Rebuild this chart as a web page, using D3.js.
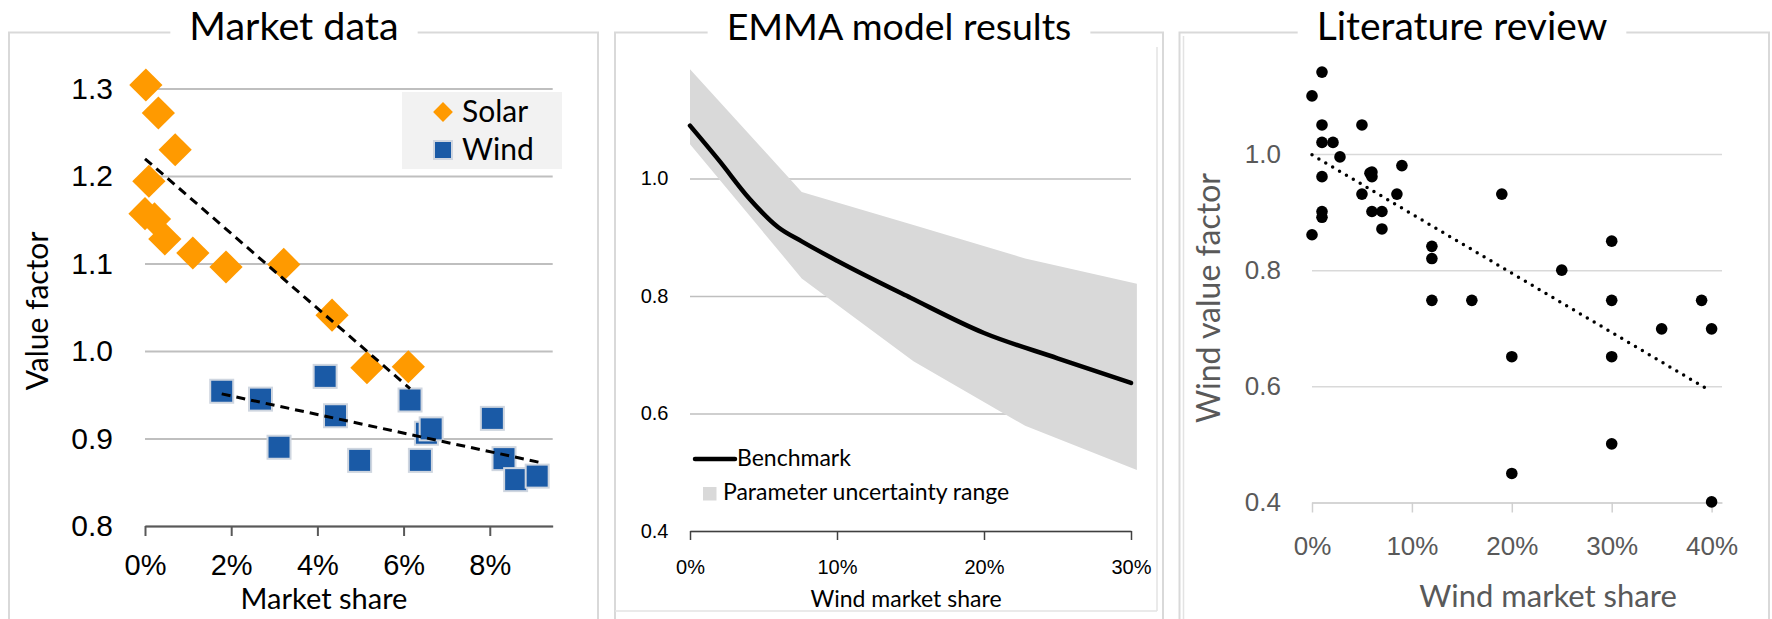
<!DOCTYPE html>
<html lang="en">
<head>
<meta charset="UTF-8">
<title>Value factors</title>
<style>
  body { margin: 0; background: #fff; }
  svg { display: block; font-family: Lato, 'Open Sans', sans-serif; }
</style>
</head>
<body>
<svg id="svg" width="1772" height="619"></svg>
<script src="https://d3js.org/d3.v7.min.js"></script>
<script>
// --- Market data (share in %, value factor)
const solarShare = [0.02, 0.31, 0.70, 0.09, 0.0, 0.22, 0.46, 1.11, 1.88, 3.22, 4.34, 5.15, 6.11]
const solarValue = [1.304, 1.272, 1.230, 1.194, 1.157, 1.151, 1.128, 1.112, 1.096, 1.099, 1.041, 0.981, 0.982]
const windShare = [1.78, 2.68, 3.11, 4.18, 4.42, 4.98, 6.15, 6.39, 6.53, 6.64, 8.06, 8.33, 8.60, 9.10]
const windValue = [0.954, 0.945, 0.890, 0.971, 0.926, 0.875, 0.944, 0.875, 0.906, 0.911, 0.923, 0.877, 0.853, 0.857]
const solarTrendShare = [0, 6.15]
const solarTrendValue = [1.2197, 0.957]
const windTrendShare = [1.78, 9.13]
const windTrendValue = [0.951, 0.873]
const marketTicksX = [0, 2, 4, 6, 8]
const marketTicksY = [0.8, 0.9, 1.0, 1.1, 1.2, 1.3]

// --- EMMA model results
const emmaShare = [0, 2, 4, 6, 7.6, 10, 15, 20, 25, 30]
const emmaBenchmark = [1.09, 1.03, 0.967, 0.917, 0.893, 0.860, 0.797, 0.737, 0.694, 0.652]
const bandShare = [0, 7.6, 15.2, 22.8, 30.4]
const bandHigh = [1.186, 0.977, 0.921, 0.864, 0.821]
const bandLow = [1.0585, 0.830, 0.689, 0.579, 0.504]
const emmaTicksX = [0, 10, 20, 30]
const emmaTicksY = [0.4, 0.6, 0.8, 1.0]

// --- Literature review
const litShare = [0, 1, 1, 1, 2.1, 2.8, 1, 1, 1, 0, 5, 5, 5.8, 6, 6, 6, 7, 7, 8.5, 9,
  12, 12, 12, 16, 19, 20, 20, 25, 30, 30, 30, 30, 35, 39, 40, 40]
const litValue = [1.10, 1.141, 1.050, 1.020, 1.020, 0.995, 0.961, 0.901, 0.891, 0.861, 1.050, 0.931, 0.967, 0.969, 0.961, 0.901, 0.901, 0.871, 0.931, 0.980,
  0.841, 0.820, 0.748, 0.748, 0.931, 0.651, 0.450, 0.800, 0.850, 0.748, 0.651, 0.501, 0.699, 0.748, 0.699, 0.401]
const litTrendShare = [0, 39.4]
const litTrendValue = [0.9986, 0.597]
const litTicksX = [0, 10, 20, 30, 40]
const litTicksY = [0.4, 0.6, 0.8, 1.0]

const svg = d3.select('#svg')
svg.append('rect').attr('width', 1772).attr('height', 619).attr('fill', '#fff')

// panel frame with the title sitting on the top edge
function frame(x0, x1, title, cx, size) {
    svg.append('rect')
        .attr('x', x0).attr('y', 32.5)
        .attr('width', x1 - x0).attr('height', 700)
        .attr('fill', 'none').attr('stroke', '#d9d9d9').attr('stroke-width', 2)
    const g = svg.append('g')
    const bg = g.append('rect').attr('fill', '#fff')
    const t = g.append('text')
        .attr('x', cx).attr('y', 40)
        .attr('text-anchor', 'middle')
        .attr('font-size', size)
        .attr('fill', '#000')
        .text(title)
    const b = t.node().getBBox()
    bg.attr('x', b.x - 19).attr('y', 20).attr('width', b.width + 38).attr('height', 20)
}

frame(9, 598, 'Market data', 294, 39.5)
frame(615, 1163, 'EMMA model results', 899, 37.5)
frame(1179.5, 1769, 'Literature review', 1462, 39)
// extra inner borders
svg.append('line').attr('x1', 1157).attr('x2', 1157).attr('y1', 47).attr('y2', 611)
    .attr('stroke', '#e3e3e3').attr('stroke-width', 1.5)
svg.append('line').attr('x1', 615).attr('x2', 1157).attr('y1', 611).attr('y2', 611)
    .attr('stroke', '#e3e3e3').attr('stroke-width', 1.5)
svg.append('line').attr('x1', 1183.5).attr('x2', 1183.5).attr('y1', 36).attr('y2', 619)
    .attr('stroke', '#e3e3e3').attr('stroke-width', 1.5)

// ================= Panel 1 =================
const x1 = d3.scaleLinear().domain([0, 9.46]).range([145, 552.7])
const y1 = d3.scaleLinear().domain([0.8, 1.3]).range([526, 88.5])

const grid1 = svg.append('g')
    .attr('transform', 'translate(145,0)')
    .call(d3.axisLeft(y1).tickValues(marketTicksY).tickSize(-(552.7 - 145)).tickPadding(32).tickFormat(d3.format('.1f')))
grid1.select('.domain').remove()
grid1.selectAll('line').attr('stroke', '#bfbfbf').attr('stroke-width', 2)
grid1.selectAll('text').attr('font-size', 30).attr('fill', '#000').attr('font-family', null)

const ax1 = svg.append('g')
    .attr('transform', 'translate(0,526)')
    .call(d3.axisBottom(x1).tickValues(marketTicksX).tickSize(10).tickSizeOuter(0).tickPadding(18).tickFormat(d => d + '%'))
ax1.select('.domain').attr('stroke', '#595959').attr('stroke-width', 2)
ax1.selectAll('line').attr('stroke', '#595959').attr('stroke-width', 2)
ax1.selectAll('text').attr('font-size', 29).attr('fill', '#000').attr('font-family', null)

svg.append('text').attr('x', 324).attr('y', 609).attr('text-anchor', 'middle')
    .attr('font-size', 29).text('Market share')
svg.append('text').attr('transform', 'translate(48,311) rotate(-90)').attr('text-anchor', 'middle')
    .attr('font-size', 30).text('Value factor')

const solar = solarShare.map((s, i) => ({ s: s, v: solarValue[i] }))
const wind = windShare.map((s, i) => ({ s: s, v: windValue[i] }))

svg.append('g').selectAll('path')
    .data(solar)
    .enter()
    .append('path')
    .attr('d', d3.symbol(d3.symbolSquare, 23.5 * 23.5))
    .attr('transform', d => `translate(${x1(d.s)},${y1(d.v)}) rotate(45)`)
    .attr('fill', '#ff9a00')

svg.append('g').selectAll('rect')
    .data(wind)
    .enter()
    .append('rect')
    .attr('x', d => x1(d.s) - 11.5)
    .attr('y', d => y1(d.v) - 11.5)
    .attr('width', 23).attr('height', 23)
    .attr('fill', '#1a5aa6')
    .attr('stroke', '#cfd6e0').attr('stroke-width', 2)

const line1 = d3.line().x(d => x1(d[0])).y(d => y1(d[1]))
svg.append('path')
    .attr('d', line1(solarTrendShare.map((s, i) => [s, solarTrendValue[i]])))
    .attr('fill', 'none').attr('stroke', '#000').attr('stroke-width', 3).attr('stroke-dasharray', '9,6')
svg.append('path')
    .attr('d', line1(windTrendShare.map((s, i) => [s, windTrendValue[i]])))
    .attr('fill', 'none').attr('stroke', '#000').attr('stroke-width', 3).attr('stroke-dasharray', '9,6')

// legend
svg.append('rect').attr('x', 402).attr('y', 92).attr('width', 160).attr('height', 77).attr('fill', '#f2f2f2')
svg.append('path').attr('d', d3.symbol(d3.symbolSquare, 14 * 14))
    .attr('transform', 'translate(443,112) rotate(45)').attr('fill', '#ff9a00')
svg.append('rect').attr('x', 434).attr('y', 141).attr('width', 18).attr('height', 18)
    .attr('fill', '#1a5aa6').attr('stroke', '#cfd6e0').attr('stroke-width', 2)
svg.append('text').attr('x', 462).attr('y', 122).attr('font-size', 30).text('Solar')
svg.append('text').attr('x', 462).attr('y', 159.5).attr('font-size', 30).text('Wind')

// ================= Panel 2 =================
const x2 = d3.scaleLinear().domain([0, 30]).range([690, 1131])
const y2 = d3.scaleLinear().domain([0.4, 1.0]).range([531, 178.5])

const grid2 = svg.append('g')
    .attr('transform', 'translate(690,0)')
    .call(d3.axisLeft(y2).tickValues(emmaTicksY).tickSize(-(1131 - 690)).tickPadding(21.5).tickFormat(d3.format('.1f')))
grid2.select('.domain').remove()
grid2.selectAll('line').attr('stroke', '#bfbfbf').attr('stroke-width', 1.5)
grid2.selectAll('text').attr('font-size', 20).attr('fill', '#000').attr('font-family', null)

const band = bandShare.map((s, i) => ({ s: s, lo: bandLow[i], hi: bandHigh[i] }))
svg.append('path')
    .attr('d', d3.area().x(d => x2(d.s)).y0(d => y2(d.lo)).y1(d => y2(d.hi))(band))
    .attr('fill', '#d9d9d9')

const ax2 = svg.append('g')
    .attr('transform', 'translate(0,531)')
    .call(d3.axisBottom(x2).tickValues(emmaTicksX).tickSize(9).tickSizeOuter(0).tickPadding(20).tickFormat(d => d + '%'))
ax2.select('.domain').attr('stroke', '#404040').attr('stroke-width', 1.5)
ax2.selectAll('line').attr('stroke', '#404040').attr('stroke-width', 1.5)
ax2.selectAll('text').attr('font-size', 20).attr('fill', '#000').attr('font-family', null)

svg.append('path')
    .attr('d', d3.line().curve(d3.curveMonotoneX).x(d => x2(d[0])).y(d => y2(d[1]))(emmaShare.map((s, i) => [s, emmaBenchmark[i]])))
    .attr('fill', 'none').attr('stroke', '#000').attr('stroke-width', 4.5).attr('stroke-linecap', 'round')

svg.append('line').attr('x1', 695).attr('x2', 735).attr('y1', 459).attr('y2', 459)
    .attr('stroke', '#000').attr('stroke-width', 4.5).attr('stroke-linecap', 'round')
svg.append('text').attr('x', 737).attr('y', 466).attr('font-size', 23).text('Benchmark')
svg.append('rect').attr('x', 703).attr('y', 487).attr('width', 13.5).attr('height', 13.5).attr('fill', '#d9d9d9')
svg.append('text').attr('x', 723).attr('y', 499.5).attr('font-size', 23).text('Parameter uncertainty range')

svg.append('text').attr('x', 906).attr('y', 606.5).attr('text-anchor', 'middle')
    .attr('font-size', 23).text('Wind market share')

// ================= Panel 3 =================
const x3 = d3.scaleLinear().domain([0, 41.04]).range([1312, 1722])
const y3 = d3.scaleLinear().domain([0.4, 1.0]).range([502.5, 154])

const grid3 = svg.append('g')
    .attr('transform', 'translate(1312,0)')
    .call(d3.axisLeft(y3).tickValues(litTicksY).tickSize(-(1722 - 1312)).tickPadding(31).tickFormat(d3.format('.1f')))
grid3.select('.domain').remove()
grid3.selectAll('line').attr('stroke', '#d9d9d9').attr('stroke-width', 1.5)
grid3.selectAll('text').attr('font-size', 26).attr('fill', '#595959').attr('font-family', null)

const ax3 = svg.append('g')
    .attr('transform', 'translate(0,502.5)')
    .call(d3.axisBottom(x3).tickValues(litTicksX).tickSize(10).tickSizeOuter(0).tickPadding(24).tickFormat(d => d + '%'))
ax3.select('.domain').attr('stroke', '#d0d0d0').attr('stroke-width', 1.5)
ax3.selectAll('line').attr('stroke', '#d0d0d0').attr('stroke-width', 1.5)
ax3.selectAll('text').attr('font-size', 26).attr('fill', '#595959').attr('font-family', null)

svg.append('text').attr('x', 1548).attr('y', 607).attr('text-anchor', 'middle')
    .attr('font-size', 31).attr('fill', '#595959').text('Wind market share')
svg.append('text').attr('transform', 'translate(1220,298) rotate(-90)').attr('text-anchor', 'middle')
    .attr('font-size', 32).attr('fill', '#595959').text('Wind value factor')

svg.append('g').selectAll('circle')
    .data(litShare.map((s, i) => ({ s: s, v: litValue[i] })))
    .enter()
    .append('circle')
    .attr('cx', d => x3(d.s))
    .attr('cy', d => y3(d.v))
    .attr('r', 5.8)
    .attr('fill', '#000')

svg.append('path')
    .attr('d', d3.line().x(d => x3(d[0])).y(d => y3(d[1]))(litTrendShare.map((s, i) => [s, litTrendValue[i]])))
    .attr('fill', 'none').attr('stroke', '#000').attr('stroke-width', 3.5)
    .attr('stroke-linecap', 'round').attr('stroke-dasharray', '0,8')
</script>
</body>
</html>
